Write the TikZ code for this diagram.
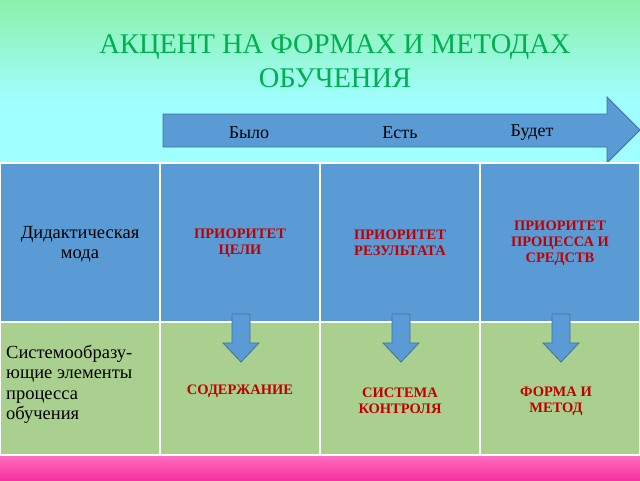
\documentclass[tikz,border=0pt]{standalone}
\usepackage{fontspec}
\setmainfont{Liberation Serif}
\begin{document}
\begin{tikzpicture}[x=1pt,y=-1pt,
 cellb/.style={draw=white,line width=1.5pt,fill=blueC},
 cellg/.style={draw=white,line width=1.5pt,fill=greenC},
 red/.style={text=redT,font=\bfseries\fontsize{14.5}{16}\selectfont,align=center},
 lab/.style={font=\fontsize{18.5}{20.5}\selectfont,align=left},
 darr/.style={fill=blueC,draw=blueD,line width=0.8pt}]
\definecolor{blueC}{RGB}{91,155,213}
\definecolor{blueD}{RGB}{65,113,156}
\definecolor{greenC}{RGB}{169,208,142}
\definecolor{redT}{RGB}{192,0,0}
\definecolor{titleG}{RGB}{0,176,80}
\definecolor{topG}{RGB}{140,240,170}
\definecolor{cyanB}{RGB}{160,255,255}
\definecolor{pinkA}{RGB}{255,110,190}
\definecolor{pinkB}{RGB}{245,50,160}
\useasboundingbox (0,0) rectangle (640,480);
\fill[cyanB] (0,100) rectangle (640,460);
\shade[top color=topG, bottom color=cyanB] (0,0) rectangle (640,101);
\shade[top color=pinkA, bottom color=pinkB] (0,455) rectangle (640,480);
\node[text=titleG,font=\fontsize{28.5}{34}\selectfont,align=center] (title) at (335,61) {АКЦЕНТ НА ФОРМАХ И МЕТОДАХ\\ОБУЧЕНИЯ};
\draw[darr] (163,114) -- (607,114) -- (607,97) -- (640,130) -- (607,163) -- (607,147) -- (163,147) -- cycle;
\node[font=\fontsize{18}{20}\selectfont] (b1) at (249,133) {Было};
\node[font=\fontsize{18}{20}\selectfont] (b2) at (400,133) {Есть};
\node[font=\fontsize{18}{20}\selectfont] (b3) at (532,133) {Будет};
\foreach \i in {0,1,2,3}{
 \draw[cellb] (160*\i,163) rectangle (160*\i+160,322);
 \draw[cellg] (160*\i,322) rectangle (160*\i+160,455);
}
\node[lab,align=center] (d1) at (80,244) {Дидактическая\\мода};
\node[lab,anchor=north west,inner sep=1pt] (d2) at (5,344) {Системообразу-\\ющие элементы\\процесса\\обучения};
\node[red] (p1) at (240,243) {ПРИОРИТЕТ\\ЦЕЛИ};
\node[red] (p2) at (400,243) {ПРИОРИТЕТ\\РЕЗУЛЬТАТА};
\node[red] (p3) at (560,243) {ПРИОРИТЕТ\\ПРОЦЕССА И\\СРЕДСТВ};
\node[red] (s1) at (240,391) {СОДЕРЖАНИЕ};
\node[red] (s2) at (400,401) {СИСТЕМА\\КОНТРОЛЯ};
\node[red] (s3) at (556,401) {ФОРМА И\\МЕТОД};
\foreach \x in {241,401,561}{
 \draw[darr] (\x-9,314) -- (\x+9,314) -- (\x+9,343) -- (\x+18,343) -- (\x,362) -- (\x-18,343) -- (\x-9,343) -- cycle;
}
\end{tikzpicture}
\end{document}
